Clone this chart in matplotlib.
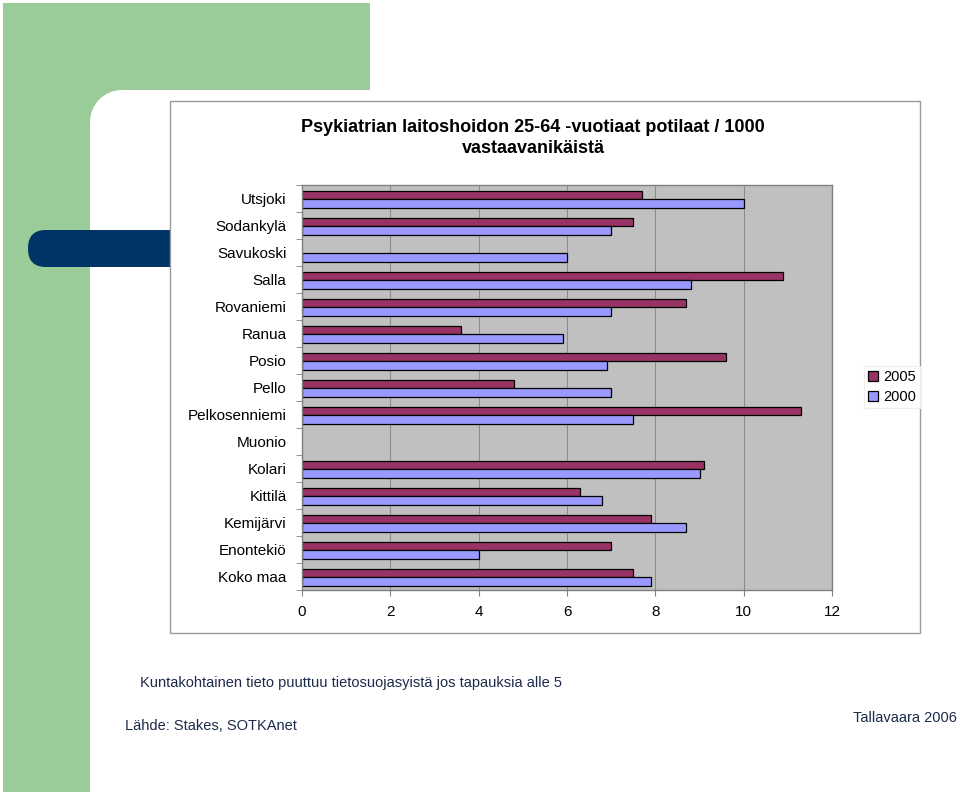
import numpy as np
import matplotlib
matplotlib.use('Agg')
import matplotlib.pyplot as plt
from matplotlib.patches import Rectangle, FancyBboxPatch, Circle

plt.rcParams['font.family'] = ['Liberation Sans', 'DejaVu Sans']

# data, top row first
kunnat = ['Utsjoki', 'Sodankylä', 'Savukoski', 'Salla', 'Rovaniemi', 'Ranua',
          'Posio', 'Pello', 'Pelkosenniemi', 'Muonio', 'Kolari', 'Kittilä',
          'Kemijärvi', 'Enontekiö', 'Koko maa']
v2005 = [7.7, 7.5, np.nan, 10.9, 8.7, 3.6, 9.6, 4.8, 11.3, np.nan, 9.1, 6.3, 7.9, 7.0, 7.5]
v2000 = [10.0, 7.0, 6.0, 8.8, 7.0, 5.9, 6.9, 7.0, 7.5, np.nan, 9.0, 6.8, 8.7, 4.0, 7.9]
xticks = [0, 2, 4, 6, 8, 10, 12]

W, H = 960, 792
fig = plt.figure(figsize=(W / 100, H / 100), dpi=100)

def fx(x):
    return x / W

def fy(y):
    return 1 - y / H

# slide background (pixel coords)
bg = fig.add_axes([0, 0, 1, 1])
bg.set_xlim(0, W)
bg.set_ylim(H, 0)
bg.axis('off')
green = '#99CC99'
bg.add_patch(Rectangle((3, 3), 367, 87, facecolor=green, edgecolor='none'))
bg.add_patch(Rectangle((3, 3), 87, H, facecolor=green, edgecolor='none'))
# rounded inner corner of the white area
r = 32
bg.add_patch(Rectangle((90, 90), r, r, facecolor=green, edgecolor='none'))
bg.add_patch(Circle((90 + r, 90 + r), r, facecolor='white', edgecolor='none'))
bg.add_patch(FancyBboxPatch((28, 230), 160, 37, boxstyle='round,pad=0,rounding_size=18',
                            facecolor='#003366', edgecolor='none'))
bg.add_patch(Rectangle((170, 101), 750, 532, facecolor='white', edgecolor='#9a9a9a', lw=1))

# title
fig.text(fx(533), fy(138), 'Psykiatrian laitoshoidon 25-64 -vuotiaat potilaat / 1000\nvastaavanikäistä',
         ha='center', va='center', fontsize=13, fontweight='bold', linespacing=1.25)

# chart
left, right, top, bottom = 302, 832, 185, 590
ax = fig.add_axes([fx(left), fy(bottom), (right - left) / W, (bottom - top) / H])
ax.set_facecolor('#C0C0C0')
y = np.arange(len(kunnat))
h = 0.31
ax.barh(y - h / 2 + 0.03, v2005, height=h, color='#993366', edgecolor='black', lw=0.9, label='2005')
ax.barh(y + h / 2 + 0.03, v2000, height=h, color='#9999FF', edgecolor='black', lw=0.9, label='2000')
ax.set_ylim(len(kunnat) - 0.5, -0.5)
ax.set_xlim(0, 12)
ax.set_xticks(xticks)
ax.set_xticklabels([str(t) for t in xticks], fontsize=11)
ax.set_yticks(y)
ax.set_yticklabels(kunnat, fontsize=11)
ax.set_yticks(np.arange(len(kunnat) + 1) - 0.5, minor=True)
ax.tick_params(axis='y', which='major', length=0, pad=11)
ax.tick_params(axis='y', which='minor', length=4, color='#808080', direction='out')
ax.tick_params(axis='x', length=4, color='#808080', direction='out', pad=7)
ax.grid(axis='x', color='#8c8c8c', lw=0.8)
ax.set_axisbelow(True)
for s in ax.spines.values():
    s.set_color('#808080')
    s.set_linewidth(1)

leg = ax.legend(loc='center', bbox_to_anchor=(fx(892), fy(387)), bbox_transform=fig.transFigure,
                fontsize=10.5, handlelength=0.7, handleheight=0.7, handletextpad=0.3,
                labelspacing=0.4, borderpad=0.3, fancybox=False, framealpha=1)
leg.get_frame().set_edgecolor('#eeeeee')
leg.get_frame().set_linewidth(0.8)

# footnotes
navy = '#1c2a4a'
fig.text(fx(140), fy(683), 'Kuntakohtainen tieto puuttuu tietosuojasyistä jos tapauksia alle 5',
         ha='left', va='center', fontsize=10.5, color=navy)
fig.text(fx(125), fy(726), 'Lähde: Stakes, SOTKAnet', ha='left', va='center', fontsize=10.5, color=navy)
fig.text(fx(957), fy(718), 'Tallavaara 2006', ha='right', va='center', fontsize=10.5, color=navy)

fig.savefig('out.png', dpi=100)
